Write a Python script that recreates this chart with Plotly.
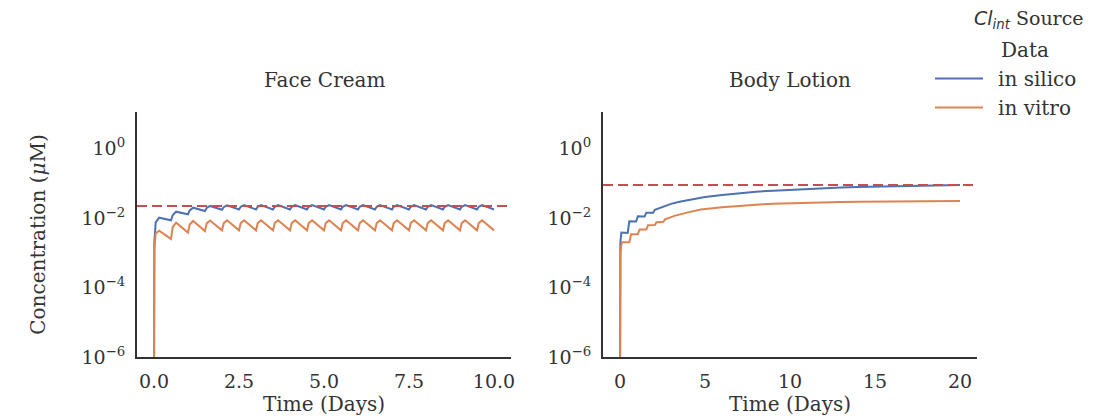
import plotly.graph_objects as go

# ---------------- data ----------------
series_names = ["in silico", "in vitro"]
panel_titles = ["Face Cream", "Body Lotion"]
legend_title = "Data"

# Face Cream (twice-daily application)
fc_time = [0.0, 0.01, 0.05, 0.15,
           0.5, 0.55, 0.65, 1.0, 1.05, 1.15, 1.5, 1.55, 1.65, 2.0, 2.05, 2.15,
           2.5, 2.55, 2.65, 3.0, 3.05, 3.15, 3.5, 3.55, 3.65, 4.0, 4.05, 4.15,
           4.5, 4.55, 4.65, 5.0, 5.05, 5.15, 5.5, 5.55, 5.65, 6.0, 6.05, 6.15,
           6.5, 6.55, 6.65, 7.0, 7.05, 7.15, 7.5, 7.55, 7.65, 8.0, 8.05, 8.15,
           8.5, 8.55, 8.65, 9.0, 9.05, 9.15, 9.5, 9.55, 9.65, 10.0]
fc_silico = [1e-7, 0.002, 0.0075, 0.0102,
             0.0086, 0.012, 0.0152, 0.0128, 0.0165, 0.0198, 0.0159, 0.0195, 0.0222, 0.0172, 0.0205, 0.0232,
             0.0176, 0.021, 0.0236, 0.0176, 0.021, 0.0236, 0.0176, 0.021, 0.0236, 0.0176, 0.021, 0.0236,
             0.0176, 0.021, 0.0236, 0.0176, 0.021, 0.0236, 0.0176, 0.021, 0.0236, 0.0176, 0.021, 0.0236,
             0.0176, 0.021, 0.0236, 0.0176, 0.021, 0.0236, 0.0176, 0.021, 0.0236, 0.0176, 0.021, 0.0236,
             0.0176, 0.021, 0.0236, 0.0176, 0.021, 0.0236, 0.0176, 0.021, 0.0236, 0.0176]
fc_vitro = [1e-7, 0.0012, 0.0036, 0.0043,
            0.0025, 0.0055, 0.0073, 0.0038, 0.0065, 0.0082, 0.0042, 0.007, 0.0085, 0.0044, 0.0071, 0.0086,
            0.0044, 0.0071, 0.0086, 0.0044, 0.0071, 0.0086, 0.0044, 0.0071, 0.0086, 0.0044, 0.0071, 0.0086,
            0.0044, 0.0071, 0.0086, 0.0044, 0.0071, 0.0086, 0.0044, 0.0071, 0.0086, 0.0044, 0.0071, 0.0086,
            0.0044, 0.0071, 0.0086, 0.0044, 0.0071, 0.0086, 0.0044, 0.0071, 0.0086, 0.0044, 0.0071, 0.0086,
            0.0044, 0.0071, 0.0086, 0.0044, 0.0071, 0.0086, 0.0044, 0.0071, 0.0086, 0.0044]
fc_reference = 0.022

# Body Lotion
bl_time_silico = [0.0, 0.02, 0.08, 0.45, 0.55, 0.95, 1.05, 1.45, 1.55, 1.95, 2.05, 2.5, 3.0, 3.5,
                  4.0, 5.0, 6.0, 7.0, 8.0, 9.0, 10.0, 11.0, 12.0, 13.0, 14.0, 15.0,
                  16.0, 17.0, 18.0, 19.0, 20.0]
bl_silico = [1e-7, 0.002, 0.0038, 0.0037, 0.008, 0.0079, 0.0112, 0.0111, 0.0142, 0.0142, 0.0172, 0.021,
             0.0255, 0.0295, 0.033, 0.040, 0.046, 0.052, 0.057, 0.061, 0.065, 0.069, 0.072, 0.075,
             0.078, 0.080, 0.083, 0.085, 0.087, 0.088, 0.089]
bl_time_vitro = [0.0, 0.03, 0.1, 0.55, 0.65, 1.05, 1.15, 1.55, 1.65, 2.05, 2.15, 2.55, 2.65, 3.2,
                 4.0, 4.75, 6.0, 7.0, 8.0, 9.0, 10.0, 11.0, 12.0, 13.0, 14.0, 15.0, 16.0, 17.0,
                 18.0, 19.0, 20.0]
bl_vitro = [1e-7, 0.001, 0.002, 0.002, 0.0034, 0.0034, 0.0047, 0.0047, 0.0062, 0.0063, 0.0076,
            0.0078, 0.0092, 0.0115, 0.0145, 0.0175, 0.0205, 0.0225, 0.0242, 0.0255, 0.0266, 0.0275,
            0.0282, 0.0288, 0.0293, 0.0297, 0.0301, 0.0304, 0.0307, 0.0309, 0.031]
bl_reference = 0.089

fc_xticks = [0, 2.5, 5, 7.5, 10]
fc_xticklabels = ["0.0", "2.5", "5.0", "7.5", "10.0"]
bl_xticks = [0, 5, 10, 15, 20]
bl_xticklabels = ["0", "5", "10", "15", "20"]
y_tickvals = [1e-6, 1e-4, 1e-2, 1]
y_ticklabels = ["10<sup>−6</sup>", "10<sup>−4</sup>", "10<sup>−2</sup>", "10<sup>0</sup>"]

# ---------------- styling ----------------
BLUE = "#4c72b0"
ORANGE = "#dd8452"
RED = "#c44e52"
FONT = "DejaVu Serif"
TXT = "#333333"
OFF = 8                      # page body margin
W, H = 1112 - OFF, 418 - OFF
PAD = "\u2002"               # small gap between legend line and label

fig = go.Figure()

fig.add_trace(go.Scatter(x=fc_time, y=fc_silico, mode="lines", name=PAD + series_names[0],
                         line=dict(color=BLUE, width=2), xaxis="x", yaxis="y",
                         legendgroup="a"))
fig.add_trace(go.Scatter(x=fc_time, y=fc_vitro, mode="lines", name=PAD + series_names[1],
                         line=dict(color=ORANGE, width=2), xaxis="x", yaxis="y",
                         legendgroup="b"))
fig.add_trace(go.Scatter(x=bl_time_silico, y=bl_silico, mode="lines", name=PAD + series_names[0],
                         line=dict(color=BLUE, width=2), xaxis="x2", yaxis="y2",
                         legendgroup="a", showlegend=False))
fig.add_trace(go.Scatter(x=bl_time_vitro, y=bl_vitro, mode="lines", name=PAD + series_names[1],
                         line=dict(color=ORANGE, width=2), xaxis="x2", yaxis="y2",
                         legendgroup="b", showlegend=False))

fig.add_shape(type="line", xref="x domain", yref="y", x0=0, x1=1, y0=fc_reference, y1=fc_reference,
              line=dict(color=RED, width=2, dash="10px,5px"))
fig.add_shape(type="line", xref="x2 domain", yref="y2", x0=0, x1=1, y0=bl_reference, y1=bl_reference,
              line=dict(color=RED, width=2, dash="10px,5px"))


def px_x(p):
    return (p - OFF) / W


def px_y(p):
    return 1 - (p - OFF) / H


xdom1 = [px_x(137), px_x(511)]
xdom2 = [px_x(603), px_x(977)]
ydom = [px_y(357), px_y(112)]

TICK = 19
LAB = 20

axis_common = dict(showline=True, linecolor="#333333", linewidth=2, showgrid=False, zeroline=False,
                   ticks="outside", ticklen=6, tickcolor="rgba(0,0,0,0)",
                   tickfont=dict(family=FONT, size=TICK, color=TXT), automargin=False, mirror=False)

fig.update_layout(
    width=W, height=H,
    margin=dict(l=0, r=0, t=0, b=0),
    paper_bgcolor="white", plot_bgcolor="white",
    template="none",
    xaxis=dict(domain=xdom1, range=[-0.5, 10.5], tickvals=fc_xticks, ticktext=fc_xticklabels,
               title=dict(text="Time (Days)", font=dict(family=FONT, size=LAB, color=TXT), standoff=2),
               anchor="y", **axis_common),
    yaxis=dict(domain=ydom, type="log", range=[-6, 1.05], tickvals=y_tickvals, ticktext=y_ticklabels,
               title=dict(text="Concentration (<i>μ</i>M)", font=dict(family=FONT, size=LAB, color=TXT), standoff=30),
               anchor="x", **axis_common),
    xaxis2=dict(domain=xdom2, range=[-1, 21], tickvals=bl_xticks, ticktext=bl_xticklabels,
                title=dict(text="Time (Days)", font=dict(family=FONT, size=LAB, color=TXT), standoff=2),
                anchor="y2", **axis_common),
    yaxis2=dict(domain=ydom, type="log", range=[-6, 1.05], tickvals=y_tickvals, ticktext=y_ticklabels,
                anchor="x2", **axis_common),
    showlegend=True,
    legend=dict(x=px_x(930), y=px_y(59), xanchor="left", yanchor="top",
                font=dict(family=FONT, size=LAB, color=TXT), bgcolor="rgba(0,0,0,0)",
                itemwidth=48, tracegroupgap=0),
    annotations=[
        dict(text=panel_titles[0], x=(xdom1[0] + xdom1[1]) / 2, y=px_y(80), xref="paper", yref="paper",
             showarrow=False, font=dict(family=FONT, size=LAB, color=TXT), xanchor="center", yanchor="middle"),
        dict(text=panel_titles[1], x=(xdom2[0] + xdom2[1]) / 2, y=px_y(80), xref="paper", yref="paper",
             showarrow=False, font=dict(family=FONT, size=LAB, color=TXT), xanchor="center", yanchor="middle"),
        dict(text=legend_title, x=px_x(1025), y=px_y(50), xref="paper", yref="paper",
             showarrow=False, font=dict(family=FONT, size=LAB, color=TXT), xanchor="center", yanchor="middle"),
        dict(text='<span style="font-family:DejaVu Sans"><i>Cl</i><sub><i>int</i></sub></span> Source',
             x=px_x(1029), y=px_y(19), xref="paper", yref="paper", showarrow=False,
             font=dict(family=FONT, size=19, color=TXT), xanchor="center", yanchor="middle"),
    ],
)

fig.write_html("out.html")
